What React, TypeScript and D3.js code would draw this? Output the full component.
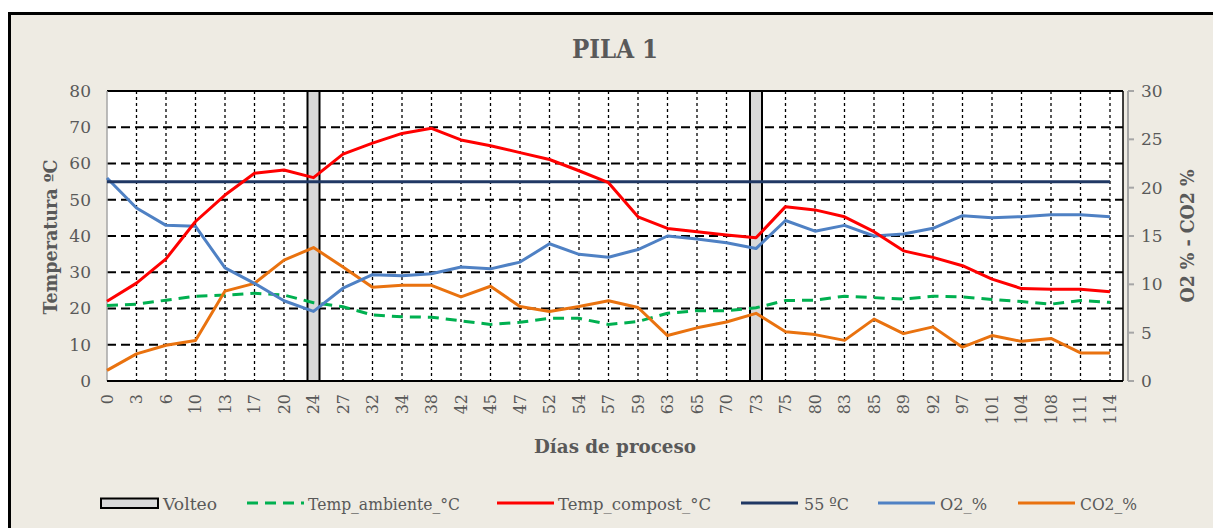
import React from "react";
import { scalePoint, scaleLinear, line } from "d3";

// dias de proceso (eje x categorico)
const days = [
  "0", "3", "6", "10", "13", "17", "20", "24", "27", "32", "34", "38",
  "42", "45", "47", "52", "54", "57", "59", "63", "65", "70", "73", "75",
  "80", "83", "85", "89", "92", "97", "101", "104", "108", "111", "114",
];

const tempCompost = [
  22, 27, 33.7, 44, 51.3, 57.3, 58.2, 56.1, 62.6, 65.6, 68.3, 69.7,
  66.5, 64.9, 63, 61.1, 58, 54.7, 45.3, 42.1, 41.2, 40.3, 39.5, 48.1,
  47.2, 45.3, 41.2, 35.9, 34.1, 31.8, 28.1, 25.5, 25.3, 25.3, 24.6,
];

const tempAmbiente = [
  20.8, 21.2, 22.3, 23.4, 23.7, 24.2, 23.7, 21.6, 20.5, 18.2, 17.7, 17.6,
  16.6, 15.6, 16.2, 17.3, 17.3, 15.6, 16.4, 18.7, 19.4, 19.4, 20.2, 22.2,
  22.3, 23.4, 23, 22.6, 23.4, 23.2, 22.5, 21.9, 21.2, 22.2, 21.7,
];

const o2 = [
  21, 17.9, 16.1, 16, 11.7, 10.1, 8.3, 7.2, 9.6, 11, 10.9, 11.1,
  11.8, 11.6, 12.3, 14.2, 13.1, 12.8, 13.6, 15, 14.7, 14.3, 13.7, 16.6,
  15.5, 16.1, 15, 15.2, 15.8, 17.1, 16.9, 17, 17.2, 17.2, 17,
];

const co2 = [
  1.1, 2.8, 3.7, 4.2, 9.3, 10.1, 12.5, 13.8, 11.8, 9.7, 9.9, 9.9,
  8.7, 9.8, 7.7, 7.2, 7.7, 8.3, 7.6, 4.7, 5.5, 6.1, 7, 5.1,
  4.8, 4.2, 6.4, 4.9, 5.6, 3.5, 4.7, 4.1, 4.4, 2.9, 2.9,
];

const volteoDays = ["24", "73"];
const limite = 55;
const leftTicks = [0, 10, 20, 30, 40, 50, 60, 70, 80];
const rightTicks = [0, 5, 10, 15, 20, 25, 30];

const FONT = "'DejaVu Serif', serif";
const TXT = "#595959";

const top = 91;
const bottom = 381;
const left = 107;
const right = 1123;

const x = scalePoint<string>().domain(days).range([left, 1110]);
const yL = scaleLinear().domain([0, 80]).range([bottom, top]);
const yR = scaleLinear().domain([0, 30]).range([bottom, top]);

const pathL = line<number>()
  .x((_, i) => x(days[i]) as number)
  .y((d) => yL(d));
const pathR = line<number>()
  .x((_, i) => x(days[i]) as number)
  .y((d) => yR(d));

// leyenda
const legend = [
  { label: "Volteo", kind: "box", sx: 101, tx: 163, tw: 54 },
  { label: "Temp_ambiente_°C", kind: "dash", color: "#00B050", sx: 247, tx: 308, tw: 152 },
  { label: "Temp_compost_°C", kind: "line", color: "#FF0000", sx: 497, tx: 558, tw: 153 },
  { label: "55 ºC", kind: "line", color: "#203864", sx: 741, tx: 804, tw: 45 },
  { label: "O2_%", kind: "line", color: "#4F81C4", sx: 878, tx: 940, tw: 47 },
  { label: "CO2_%", kind: "line", color: "#E9720F", sx: 1018, tx: 1080, tw: 57 },
];

export default function App() {
  return (
    <svg
      width={1213}
      height={528}
      style={{ position: "absolute", left: 0, top: 0 }}
      fontFamily={FONT}
    >
      <rect x={0} y={0} width={1213} height={528} fill="#fff" />
      <rect x={9.5} y={13.5} width={1220} height={530} fill="#EEEBE3" stroke="#000" strokeWidth={3} />

      <text x={615} y={58} textAnchor="middle" fontSize={26} fontWeight="bold" fill={TXT} textLength={86} lengthAdjust="spacingAndGlyphs">
        PILA 1
      </text>

      {/* area del grafico */}
      <rect x={left} y={top} width={right - left} height={bottom - top} fill="#fff" />

      {/* rejilla horizontal */}
      {leftTicks.slice(1, -1).map((t) => (
        <line key={"h" + t} x1={left} x2={right} y1={yL(t)} y2={yL(t)} stroke="#000" strokeWidth={2} strokeDasharray="9,5" />
      ))}
      {/* rejilla vertical */}
      {days.slice(1).map((d) => (
        <line key={"v" + d} x1={x(d)} x2={x(d)} y1={top} y2={bottom} stroke="#000" strokeWidth={1.3} strokeDasharray="3,3" />
      ))}

      {/* volteos */}
      {volteoDays.map((d) => {
        const cx = x(d) as number;
        return (
          <g key={"vol" + d}>
            <rect x={cx - 6} y={yL(80)} width={12} height={yL(0) - yL(80)} fill="#D9D9D9" />
            <line x1={cx - 6} x2={cx - 6} y1={top} y2={bottom} stroke="#000" strokeWidth={2} />
            <line x1={cx + 6} x2={cx + 6} y1={top} y2={bottom} stroke="#000" strokeWidth={2} />
          </g>
        );
      })}

      {/* bordes */}
      <line x1={left} x2={right} y1={top} y2={top} stroke="#000" strokeWidth={2} />
      <line x1={right} x2={right} y1={top} y2={bottom} stroke="#000" strokeWidth={1.5} />
      <line x1={left} x2={left} y1={top} y2={bottom} stroke="#A6A6A6" strokeWidth={1.5} />

      {/* series */}
      <path d={pathL(tempAmbiente) || ""} fill="none" stroke="#00B050" strokeWidth={3} strokeDasharray="11,7" />
      <path d={pathR(co2) || ""} fill="none" stroke="#E9720F" strokeWidth={3} strokeLinejoin="round" />
      <path d={pathR(o2) || ""} fill="none" stroke="#4F81C4" strokeWidth={3} strokeLinejoin="round" />
      <line x1={x(days[0])} x2={x(days[days.length - 1])} y1={yL(limite)} y2={yL(limite)} stroke="#203864" strokeWidth={3} />
      <path d={pathL(tempCompost) || ""} fill="none" stroke="#FF0000" strokeWidth={3} strokeLinejoin="round" />

      <line x1={left} x2={right} y1={bottom} y2={bottom} stroke="#000" strokeWidth={2} />

      {/* eje izquierdo */}
      {leftTicks.map((t) => (
        <text key={"lt" + t} x={91} y={yL(t)} dy="0.35em" textAnchor="end" fontSize={17} fill={TXT}>
          {t}
        </text>
      ))}
      <text
        transform={`translate(57, 237) rotate(-90)`}
        textAnchor="middle"
        fontSize={18}
        fontWeight="bold"
        fill={TXT}
        textLength={155}
        lengthAdjust="spacingAndGlyphs"
      >
        Temperatura ºC
      </text>

      {/* eje derecho */}
      <line x1={1128} x2={1128} y1={top} y2={bottom} stroke="#A6A6A6" strokeWidth={2} />
      {rightTicks.map((t) => (
        <g key={"rt" + t}>
          <line x1={1128} x2={1134} y1={yR(t)} y2={yR(t)} stroke="#A6A6A6" strokeWidth={2} />
          <text x={1141} y={yR(t)} dy="0.35em" fontSize={17} fill={TXT}>
            {t}
          </text>
        </g>
      ))}
      <text
        transform={`translate(1194, 236) rotate(-90)`}
        textAnchor="middle"
        fontSize={18}
        fontWeight="bold"
        fill={TXT}
        textLength={133}
        lengthAdjust="spacingAndGlyphs"
      >
        O2 % - CO2 %
      </text>

      {/* eje x */}
      {days.map((d) => (
        <text
          key={"xt" + d}
          transform={`translate(${x(d)}, 394) rotate(-90)`}
          textAnchor="end"
          dy="0.35em"
          fontSize={16}
          fill={TXT}
        >
          {d}
        </text>
      ))}
      <text x={615} y={453} textAnchor="middle" fontSize={18} fontWeight="bold" fill={TXT} textLength={162} lengthAdjust="spacingAndGlyphs">
        Días de proceso
      </text>

      {/* leyenda */}
      {legend.map((l) => (
        <g key={l.label}>
          {l.kind === "box" ? (
            <rect x={l.sx} y={498.5} width={57} height={9.5} fill="#D9D9D9" stroke="#000" strokeWidth={2} />
          ) : (
            <line
              x1={l.sx}
              x2={l.sx + 57}
              y1={503}
              y2={503}
              stroke={l.color}
              strokeWidth={3}
              strokeDasharray={l.kind === "dash" ? "11,7" : undefined}
            />
          )}
          <text x={l.tx} y={510} fontSize={17} fill={TXT} textLength={l.tw} lengthAdjust="spacingAndGlyphs">
            {l.label}
          </text>
        </g>
      ))}
    </svg>
  );
}
